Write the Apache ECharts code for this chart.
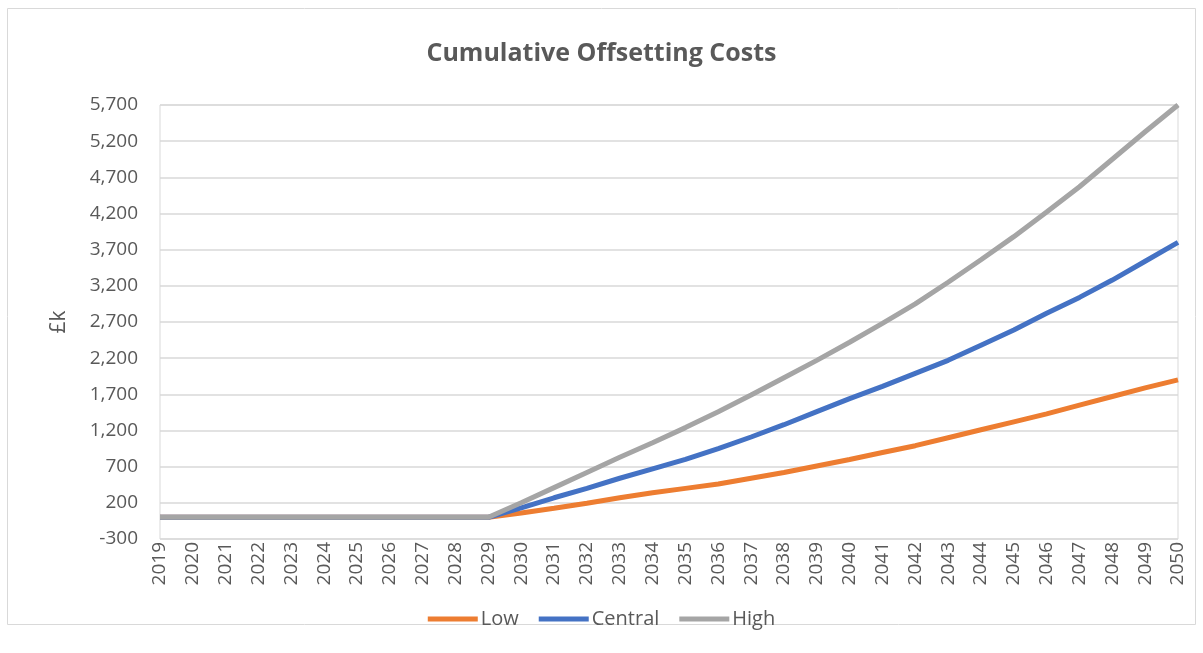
<!DOCTYPE html>
<html>
<head>
<meta charset="utf-8">
<title>Cumulative Offsetting Costs</title>
<script src="https://cdn.jsdelivr.net/npm/echarts@6/dist/echarts.min.js"></script>
<style>
  html, body { margin: 0; padding: 0; background: #fff; }
  #chart { width: 1203px; height: 653px; }
</style>
</head>
<body>
<div id="chart"></div>
<script>
"use strict";

var years = [];
for (var y = 2019; y <= 2050; y++) {
  years.push(String(y));
}

// values, £k
var lowCost = [0, 0, 0, 0, 0, 0, 0, 0, 0, 0, 0,
  60, 125, 195, 270, 340, 400, 460, 540, 620, 710,
  800, 895, 990, 1100, 1210, 1320, 1430, 1550, 1670, 1790, 1900];
var centralCost = [0, 0, 0, 0, 0, 0, 0, 0, 0, 0, 0,
  130, 270, 400, 540, 670, 800, 950, 1110, 1280, 1460,
  1640, 1810, 1990, 2170, 2380, 2590, 2820, 3040, 3280, 3540, 3800];
var highCost = [0, 0, 0, 0, 0, 0, 0, 0, 0, 0, 0,
  200, 410, 620, 830, 1030, 1240, 1460, 1690, 1930, 2170,
  2420, 2680, 2950, 3250, 3560, 3880, 4220, 4570, 4950, 5330, 5700];

var seriesNames = ["Low", "Central", "High"];
var seriesColors = ["#ED7D31", "#4472C4", "#A5A5A5"];

var textColor = "#595959";
var fontName = "'Open Sans', 'Noto Sans', sans-serif";

var chart = echarts.init(document.getElementById("chart"));

chart.setOption({
  animation: false,
  textStyle: { fontFamily: fontName },
  graphic: [
    {
      type: "rect",
      shape: { x: 7.5, y: 8.5, width: 1188, height: 616 },
      style: { fill: "none", stroke: "#d9d9d9", lineWidth: 1 },
      silent: true,
    },
  ],
  title: {
    text: "Cumulative Offsetting Costs",
    left: "center",
    top: 36,
    textStyle: {
      color: textColor,
      fontSize: 25,
      fontWeight: "bold",
      fontFamily: fontName,
    },
  },
  legend: {
    bottom: 19,
    left: "center",
    icon: "rect",
    itemWidth: 50,
    itemHeight: 5,
    itemGap: 20,
    textStyle: { color: textColor, fontSize: 20, padding: [0, 0, 0, -2] },
    data: seriesNames,
  },
  grid: {
    left: 160,
    right: 25,
    top: 105,
    bottom: 114,
    show: true,
    borderColor: "#d9d9d9",
    borderWidth: 1,
  },
  xAxis: {
    type: "category",
    data: years,
    boundaryGap: false,
    axisLine: { onZero: false, show: false },
    axisTick: { show: false },
    axisLabel: {
      rotate: 90,
      interval: 0,
      margin: 3,
      color: textColor,
      fontSize: 19,
    },
  },
  yAxis: {
    type: "value",
    min: -300,
    max: 5700,
    interval: 500,
    name: "£k",
    nameLocation: "middle",
    nameGap: 90,
    nameRotate: 90,
    nameTextStyle: { color: textColor, fontSize: 21 },
    axisLine: { show: false },
    axisTick: { show: false },
    splitLine: { lineStyle: { color: "#d9d9d9", width: 1.5 } },
    axisLabel: {
      margin: 22,
      color: textColor,
      fontSize: 19,
      formatter: function (v) {
        return v.toLocaleString("en-GB");
      },
    },
  },
  series: [
    {
      name: seriesNames[0],
      type: "line",
      data: lowCost,
      symbol: "none",
      lineStyle: { width: 5, color: seriesColors[0] },
      itemStyle: { color: seriesColors[0] },
    },
    {
      name: seriesNames[1],
      type: "line",
      data: centralCost,
      symbol: "none",
      lineStyle: { width: 5, color: seriesColors[1] },
      itemStyle: { color: seriesColors[1] },
    },
    {
      name: seriesNames[2],
      type: "line",
      data: highCost,
      symbol: "none",
      lineStyle: { width: 5, color: seriesColors[2] },
      itemStyle: { color: seriesColors[2] },
    },
  ],
});
</script>
</body>
</html>
